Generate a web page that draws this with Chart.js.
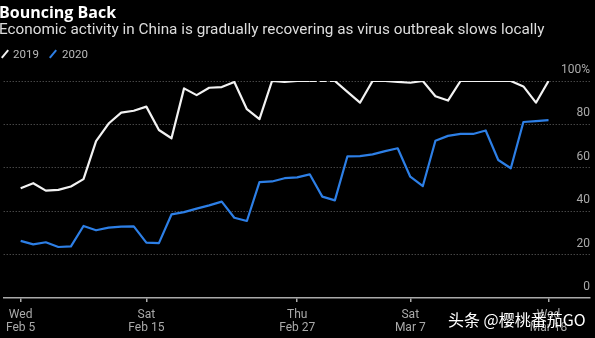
<!DOCTYPE html>
<html>
<head>
<meta charset="utf-8">
<script src="https://cdn.jsdelivr.net/npm/chart.js@4.4.1/dist/chart.umd.min.js"></script>
<style>
    html, body { margin: 0; padding: 0; background: #000; }
    #wrap { position: relative; width: 595px; height: 338px; overflow: hidden; background: #000; }
    #chart { position: absolute; left: 0; top: 0; }
    .txt { position: absolute; white-space: nowrap; }
    .title { left: -1px; top: 2px; font: bold 16px "Open Sans"; line-height: 20px; color: #fff; }
    .sub { left: -1px; top: 20px; font: 15.3px Roboto; line-height: 18px; color: #ddd; }
    .leg { top: 46px; font: 11.5px Roboto; line-height: 16px; color: #bbb; }
    .key { position: absolute; top: 49px; width: 2px; height: 10px; transform: rotate(40deg); }
    .mark { left: 448px; top: 308px; font: 16px "Noto Sans CJK SC"; line-height: 22px; color: #fff; text-shadow: 0 0 2px #000; }
</style>
</head>
<body>
<div id="wrap">
    <canvas id="chart" width="595" height="338"></canvas>
    <div class="txt title">Bouncing Back</div>
    <div class="txt sub">Economic activity in China is gradually recovering as virus outbreak slows locally</div>
    <span class="key" style="left:4px;background:#f2f2f2"></span>
    <div class="txt leg" style="left:13px">2019</div>
    <span class="key" style="left:52px;background:#2d7fe6"></span>
    <div class="txt leg" style="left:62px">2020</div>
    <div class="txt mark">头条 @樱桃番茄GO</div>
</div>
<script>
    // daily values, Wed Feb 5 .. Wed Mar 18 (index = days since Feb 5)
    var values2019 = [50.6, 52.9, 49.5, 49.8, 51.4, 54.8, 72.3, 80.4, 85.4, 86.3,
        88.2, 77.4, 73.6, 96.6, 93.5, 96.9, 97.2, 99.5, 87.0, 82.4,
        100, 99.6, 100, 100, null, 100, 95, 90, 100, 100,
        99.6, 99.2, 100, 93, 91, 100, 100, 100, 100, 100,
        97.5, 90, 100];
    var values2020 = [26.3, 24.7, 25.7, 23.5, 23.8, 33.2, 31.2, 32.4, 32.9, 33.0,
        25.5, 25.3, 38.5, 39.6, 41.2, 42.7, 44.4, 37.0, 35.5, 53.4,
        53.7, 55.2, 55.6, 57.0, 46.7, 45.0, 65.3, 65.4, 66.2, 67.7,
        69.0, 55.9, 51.6, 72.5, 74.7, 75.6, 75.6, 77.2, 63.6, 59.8,
        81.1, 81.5, 82.0];
    var tickDays = [0, 10, 22, 31, 42];
    var tickLabels = [['Wed', 'Feb 5'], ['Sat', 'Feb 15'], ['Thu', 'Feb 27'], ['Sat', 'Mar 7'], ['Wed', 'Mar 18']];
    var yTicks = [0, 20, 40, 60, 80, 100];

    function points(values) {
        return values.map(function (v, i) { return { x: i, y: v }; });
    }

    var gray = '#aaa';
    Chart.defaults.font.family = 'Roboto';

    new Chart(document.getElementById('chart').getContext('2d'), {
        type: 'line',
        data: {
            datasets: [
                {
                    label: '2020', data: points(values2020), borderColor: '#2d7fe6', borderWidth: 2.2,
                    pointRadius: 0, tension: 0, borderJoinStyle: 'round'
                },
                {
                    label: '2019', data: points(values2019), borderColor: '#f2f2f2', borderWidth: 2.2,
                    pointRadius: 0, tension: 0, borderJoinStyle: 'round', spanGaps: true,
                    segment: {
                        borderDash: function (c) { return c.p0.skip || c.p1.skip ? [7, 3] : undefined; }
                    }
                }
            ]
        },
        options: {
            responsive: false,
            animation: false,
            layout: { padding: { top: 81, right: 5, bottom: 0, left: 0 } },
            plugins: { legend: { display: false }, tooltip: { enabled: false } },
            scales: {
                x: {
                    type: 'linear',
                    min: -1.35,
                    max: 45.3,
                    afterBuildTicks: function (s) {
                        s.ticks = tickDays.map(function (d) { return { value: d }; });
                    },
                    afterFit: function (s) { s.height = 40; },
                    grid: { drawOnChartArea: false, drawTicks: true, tickLength: 4, color: gray, lineWidth: 1.5 },
                    border: { display: true, color: gray, width: 1.5 },
                    ticks: {
                        autoSkip: false, maxRotation: 0, padding: 6, color: gray,
                        font: { size: 12, lineHeight: 1.1 },
                        callback: function (v) { return tickLabels[tickDays.indexOf(v)]; }
                    }
                },
                y: {
                    position: 'right',
                    min: 0,
                    max: 100,
                    afterBuildTicks: function (s) {
                        s.ticks = yTicks.map(function (v) { return { value: v }; });
                    },
                    afterFit: function (s) { s.width = 0; },
                    grid: {
                        drawTicks: false,
                        color: function (c) { return c.tick && c.tick.value === 0 ? 'rgba(0,0,0,0)' : '#666'; }
                    },
                    border: { display: false, dash: [1, 2] },
                    ticks: {
                        mirror: true, padding: 0, labelOffset: -11, color: gray,
                        font: { size: 12 },
                        callback: function (v) { return v === 100 ? '100%' : v; }
                    }
                }
            }
        }
    });
</script>
</body>
</html>
